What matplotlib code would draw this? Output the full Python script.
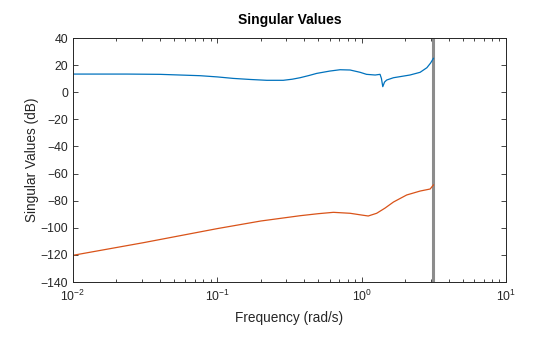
import matplotlib
matplotlib.use("Agg")
import matplotlib.pyplot as plt
import numpy as np

# Singular values (frequency in rad/s, value in dB)
sv1_freq = [0.01, 0.0236, 0.04, 0.0759, 0.1, 0.129, 0.17, 0.22, 0.286, 0.33, 0.374,
            0.43, 0.488, 0.6, 0.708, 0.831, 0.975, 1.08, 1.24, 1.34, 1.37, 1.40,
            1.44, 1.49, 1.66, 2.16, 2.54, 2.83, 3.0, 3.1416]
sv1_db = [13.4, 13.4, 13.2, 12.2, 11.3, 10.2, 9.4, 8.8, 8.8, 9.6, 10.7,
          12.3, 13.9, 15.6, 16.6, 16.4, 14.7, 13.2, 12.7, 13.2, 10.2, 4.1,
          7.5, 9.0, 10.7, 12.7, 14.7, 18.1, 21.5, 25.0]

sv2_freq = [0.01, 0.0307, 0.1, 0.2, 0.374, 0.5, 0.637, 0.831, 1.0, 1.11, 1.27,
            1.45, 1.66, 2.05, 2.54, 2.98, 3.1416]
sv2_db = [-120.3, -111.0, -100.6, -95.0, -91.1, -89.6, -88.6, -89.3, -90.6, -91.3, -89.3,
          -85.5, -81.0, -75.8, -72.9, -71.4, -68.4]

nyquist = np.pi
x_lim = (1e-2, 1e1)
y_ticks = [-140, -120, -100, -80, -60, -40, -20, 0, 20, 40]

plt.rcParams['font.family'] = ['Liberation Sans', 'DejaVu Sans']
plt.rcParams['mathtext.fontset'] = 'custom'
plt.rcParams['mathtext.rm'] = 'Liberation Sans'
plt.rcParams['mathtext.it'] = 'Liberation Sans'
plt.rcParams['mathtext.default'] = 'regular'
ink = "#262626"

fig = plt.figure(figsize=(5.6, 3.37), dpi=100)
ax = fig.add_axes([0.1304, 0.1632, 0.7732, 0.724])

ax.semilogx(sv1_freq, sv1_db, color="#0072BD", linewidth=0.9)
ax.semilogx(sv2_freq, sv2_db, color="#D95319", linewidth=0.9)
ax.axvline(nyquist, color="#8c8c8c", linewidth=2.2, zorder=1)

ax.set_xlim(*x_lim)
ax.set_ylim(-140, 40)
ax.set_yticks(y_ticks)

ax.tick_params(which="both", direction="in", top=True, right=True, colors=ink,
               labelsize=8.8, width=0.6)
ax.tick_params(which="major", length=3.5)
ax.tick_params(which="minor", length=2)
ax.tick_params(axis="x", pad=5)
for sp in ax.spines.values():
    sp.set_color(ink)
    sp.set_linewidth(0.7)

ax.set_title("Singular Values", fontsize=10, fontweight="bold", color="#000000", pad=10)
ax.set_xlabel("Frequency (rad/s)", fontsize=9.8, color=ink, labelpad=5)
ax.set_ylabel("Singular Values (dB)", fontsize=9.8, color=ink, labelpad=1)

fig.savefig("out.png", dpi=100)
